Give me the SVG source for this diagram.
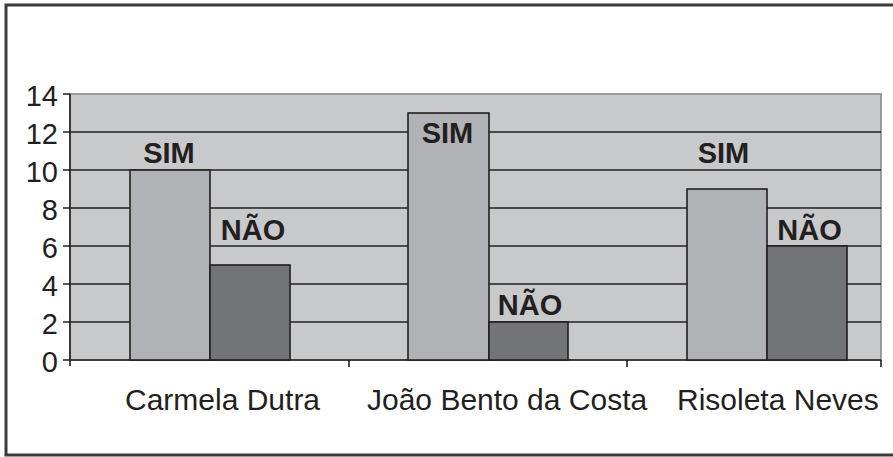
<svg xmlns="http://www.w3.org/2000/svg" width="893" height="457" viewBox="0 0 893 457">
<style>
.frame{fill:none;stroke:#3a3a3a;stroke-width:3}
.grid{stroke:#231f20;stroke-width:1.6}
.axis{stroke:#231f20;stroke-width:1.6;fill:none}
.sim{fill:#b1b2b5;stroke:#231f20;stroke-width:1.6}
.nao{fill:#737477;stroke:#231f20;stroke-width:1.6}
.num{font-family:"Liberation Sans",Arial,sans-serif;font-size:29px;fill:#231f20;text-anchor:end}
.cat{font-family:"Liberation Sans",Arial,sans-serif;font-size:30px;fill:#231f20}
.lbl{font-family:"Liberation Sans",Arial,sans-serif;font-size:29px;font-weight:bold;fill:#231f20;text-anchor:middle}
</style>
<rect width="893" height="457" fill="#ffffff"/>
<path class="frame" d="M900,5 H6 V455 H900"/>
<g id="plot">
<rect x="70" y="94" width="811" height="266" fill="#c8c9cb" stroke="#8a8b8d" stroke-width="1.6"/>
<g class="grid">
<line x1="70" y1="132" x2="881" y2="132"/>
<line x1="70" y1="170" x2="881" y2="170"/>
<line x1="70" y1="208" x2="881" y2="208"/>
<line x1="70" y1="246" x2="881" y2="246"/>
<line x1="70" y1="284" x2="881" y2="284"/>
<line x1="70" y1="322" x2="881" y2="322"/>
</g>
</g>
<g id="axes" class="axis">
<path d="M70,94 V360 H881"/>
<path d="M63,94 H70 M63,132 H70 M63,170 H70 M63,208 H70 M63,246 H70 M63,284 H70 M63,322 H70 M63,360 H70"/>
<path d="M70,360 V366 M349,360 V367 M627,360 V367 M881,360 V367"/>
</g>
<g id="yLabels">
<text class="num" x="58" y="106">14</text>
<text class="num" x="58" y="144">12</text>
<text class="num" x="58" y="182">10</text>
<text class="num" x="58" y="220">8</text>
<text class="num" x="58" y="258">6</text>
<text class="num" x="58" y="296">4</text>
<text class="num" x="58" y="334">2</text>
<text class="num" x="58" y="372">0</text>
</g>
<g id="carmela">
<rect class="sim" x="130" y="170" width="80" height="190"/>
<rect class="nao" x="210" y="265" width="80" height="95"/>
<text class="lbl" x="169" y="163">SIM</text>
<text class="lbl" x="253" y="240">NÃO</text>
<text class="cat" x="125" y="410">Carmela Dutra</text>
</g>
<g id="joao">
<rect class="sim" x="408" y="113" width="81" height="247"/>
<rect class="nao" x="489" y="322" width="79" height="38"/>
<text class="lbl" x="447.5" y="143">SIM</text>
<text class="lbl" x="530" y="315">NÃO</text>
<text class="cat" x="367" y="410">João Bento da Costa</text>
</g>
<g id="risoleta">
<rect class="sim" x="687" y="189" width="80" height="171"/>
<rect class="nao" x="767" y="246" width="80" height="114"/>
<text class="lbl" x="723.5" y="163">SIM</text>
<text class="lbl" x="809.5" y="240">NÃO</text>
<text class="cat" x="677" y="410">Risoleta Neves</text>
</g>
</svg>
